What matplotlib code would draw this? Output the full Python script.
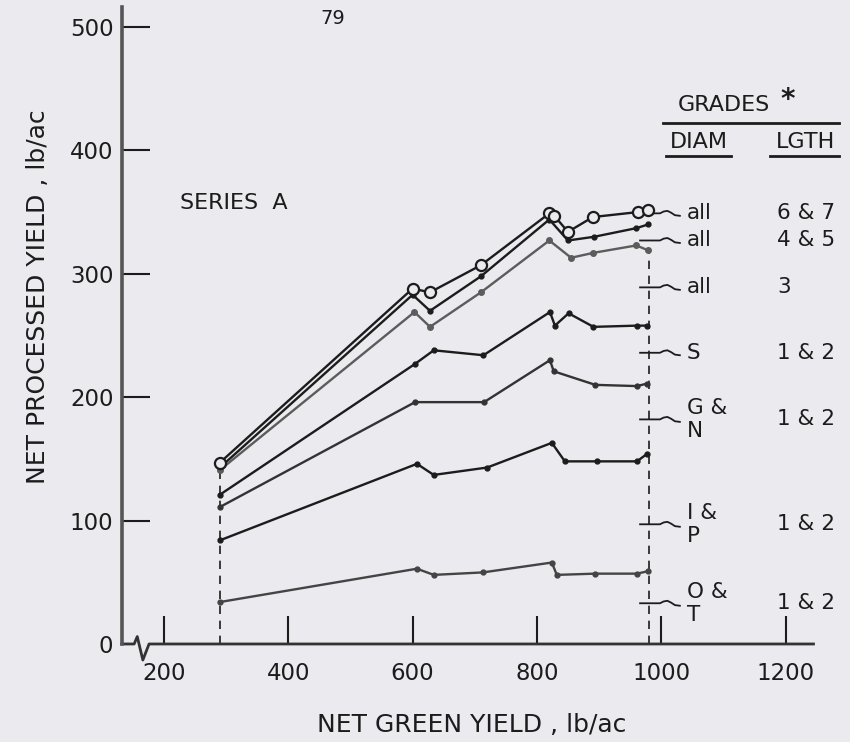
import numpy as np
import matplotlib.pyplot as plt

# values (Series A)
x_67 = [290, 600, 628, 710, 820, 828, 850, 890, 962, 979]
y_67 = [147, 288, 285, 307, 349, 347, 334, 346, 350, 352]

x_45 = [290, 600, 628, 710, 820, 850, 892, 960, 979]
y_45 = [143, 283, 270, 298, 344, 327, 330, 337, 340]

x_3 = [290, 603, 628, 710, 820, 855, 891, 960, 979]
y_3 = [141, 269, 257, 285, 327, 313, 317, 323, 319]

x_s = [290, 604, 634, 714, 821, 829, 851, 891, 961, 977]
y_s = [121, 227, 238, 234, 269, 258, 268, 257, 258, 258]

x_gn = [290, 604, 715, 821, 827, 894, 961, 977]
y_gn = [111, 196, 196, 230, 221, 210, 209, 211]

x_ip = [290, 607, 634, 720, 824, 845, 896, 961, 977]
y_ip = [84, 146, 137, 143, 163, 148, 148, 148, 154]

x_ot = [290, 607, 634, 713, 824, 832, 894, 961, 979]
y_ot = [34, 61, 56, 58, 66, 56, 57, 57, 59]

diam_labels = ['all', 'all', 'all', 'S', 'G &\nN', 'I &\nP', 'O &\nT']
lgth_labels = ['6 & 7', '4 & 5', '3', '1 & 2', '1 & 2', '1 & 2', '1 & 2']
label_y = [349, 327, 289, 236, 182, 97, 33]

xticks = [200, 400, 600, 800, 1000, 1200]
yticks = [0, 100, 200, 300, 400, 500]

bg = '#eaeaef'
ink = '#1c1c1c'
grey = '#5c5c5c'

fig = plt.figure(figsize=(8.5, 7.42), dpi=100, facecolor=bg)
ax = fig.add_axes([0.1432, 0.1321, 0.8175, 0.8581])
ax.set_facecolor(bg)
ax.set_xlim(132, 1250)
ax.set_ylim(0, 516)

font = 'DejaVu Sans'

# series lines
ax.plot(x_67, y_67, color=ink, lw=1.7, marker='o', ms=8, mfc=bg, mec=ink, mew=1.6, zorder=5)
ax.plot(x_45, y_45, color=ink, lw=1.7, marker='o', ms=3.5, zorder=4)
ax.plot(x_3, y_3, color=grey, lw=1.7, marker='o', ms=4, zorder=4)
ax.plot(x_s, y_s, color=ink, lw=1.7, marker='o', ms=3.5, zorder=4)
ax.plot(x_gn, y_gn, color='#333333', lw=1.7, marker='o', ms=3.5, zorder=4)
ax.plot(x_ip, y_ip, color=ink, lw=1.7, marker='o', ms=3.5, zorder=4)
ax.plot(x_ot, y_ot, color='#444444', lw=1.7, marker='o', ms=3.5, zorder=4)

# dashed drop lines at the two ends
ax.plot([x_67[0], x_67[0]], [0, y_3[0]], color=ink, lw=1.2, ls=(0, (5, 4)))
ax.plot([981, 981], [0, 319], color=ink, lw=1.2, ls=(0, (5, 4)))

# connector squiggles and grade labels
cx = np.array([0, 32, 38, 44, 50, 56, 64])
cy = np.array([0, 0, 1.5, 2, 0.5, -1.5, -2])
for ly, dl, lg in zip(label_y, diam_labels, lgth_labels):
    ax.plot(966 + cx, ly + cy, color=ink, lw=1.3, clip_on=False)
    ax.text(1041, ly, dl, fontsize=15.5, family=font, va='center', ha='left',
            linespacing=1.2, color=ink)
    ax.text(1186, ly, lg, fontsize=15.5, family=font, va='center', ha='left', color=ink)

ax.text(226, 357, 'SERIES  A', fontsize=16, family=font, va='center', ha='left', color=ink)

# axes styling
for s in ['top', 'right', 'bottom']:
    ax.spines[s].set_visible(False)
ax.spines['left'].set_color('#555555')
ax.spines['left'].set_linewidth(2.6)

# bottom axis with a break near the origin
ax.plot([132, 152, 157, 166, 176, 1245], [0, 0, 6, -13, 0, 0],
        color='#333333', lw=2, clip_on=False, solid_joinstyle='round')

ax.set_xticks(xticks)
ax.set_yticks(yticks)
ax.tick_params(axis='x', direction='in', length=20, width=1.5, color=ink, pad=13,
               labelsize=16.5)
ax.tick_params(axis='y', direction='in', length=20, width=1.5, color=ink, pad=6,
               labelsize=16.5)
for lab in ax.get_xticklabels() + ax.get_yticklabels():
    lab.set_family(font)
    lab.set_color(ink)
ax.yaxis.get_major_ticks()[0].tick1line.set_visible(False)

ax.set_xlabel('NET GREEN YIELD , lb/ac', fontsize=18, family=font, color=ink, va='center')
ax.set_ylabel('NET PROCESSED YIELD , lb/ac', fontsize=18, family=font, color=ink, va='center')
ax.xaxis.set_label_coords(0.504, -0.127)
ax.yaxis.set_label_coords(-0.12, 0.545)

# header block for the grades
fig.text(678 / 850, 1 - 105 / 742, 'GRADES', fontsize=16, family=font, va='center', ha='left', color=ink)
fig.text(788 / 850, 1 - 100 / 742, '*', fontsize=20, family=font, va='center', ha='center',
         color=ink, weight='bold')
fig.add_artist(plt.Line2D([663 / 850, 839 / 850], [1 - 123 / 742] * 2, color=ink, lw=2))
fig.text(699 / 850, 1 - 142 / 742, 'DIAM', fontsize=16, family=font, va='center', ha='center', color=ink)
fig.add_artist(plt.Line2D([666 / 850, 731 / 850], [1 - 156 / 742] * 2, color=ink, lw=2))
fig.text(806 / 850, 1 - 142 / 742, 'LGTH', fontsize=16, family=font, va='center', ha='center', color=ink)
fig.add_artist(plt.Line2D([770 / 850, 839 / 850], [1 - 156 / 742] * 2, color=ink, lw=2))

fig.text(333 / 850, 1 - 18 / 742, '79', fontsize=14, family=font, va='center', ha='center', color=ink)

fig.savefig('out.png', dpi=100, facecolor=bg)
